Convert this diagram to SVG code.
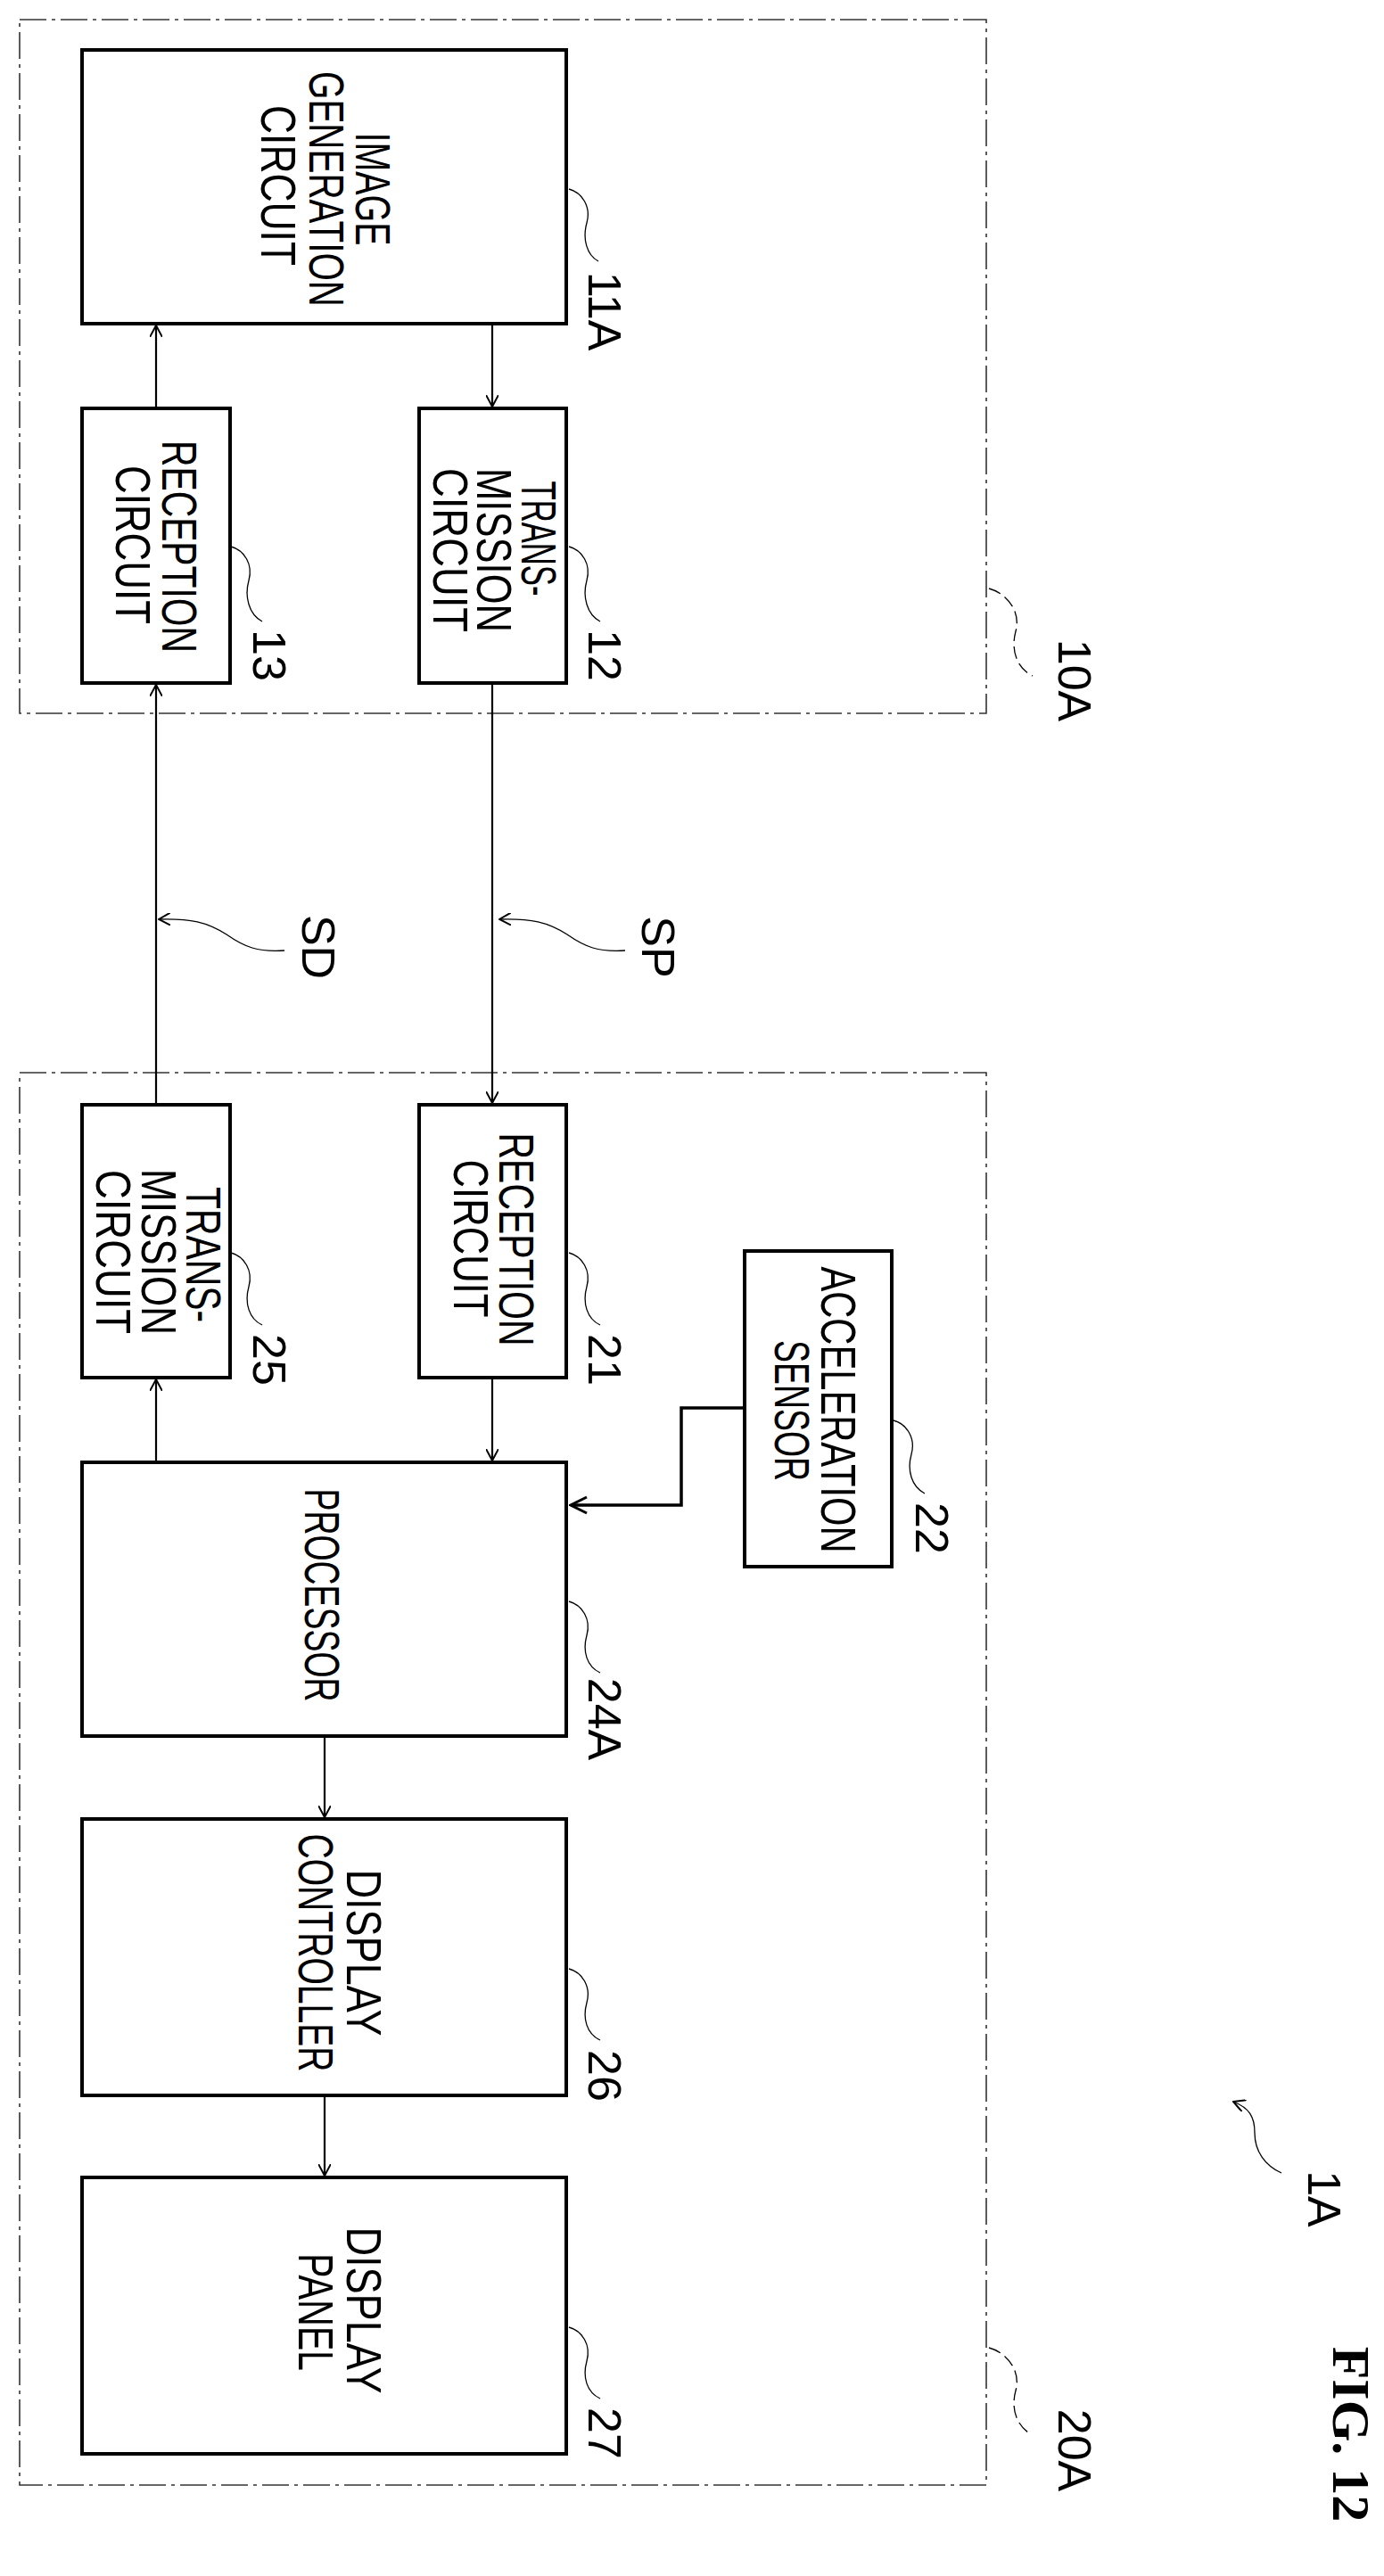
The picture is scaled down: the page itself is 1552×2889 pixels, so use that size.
<svg xmlns="http://www.w3.org/2000/svg" width="1552" height="2889" viewBox="0 0 1552 2889">
<style>
.box{fill:#fff;stroke:#000;stroke-width:4}
.grp{fill:none;stroke:#333;stroke-width:1.6;stroke-dasharray:30,6,4,6}
.ln{fill:none;stroke:#000;stroke-width:2.2}
.ld{fill:none;stroke:#000;stroke-width:1.3}
.ldd{fill:none;stroke:#000;stroke-width:1.3;stroke-dasharray:14,6}
text{font-family:"Liberation Sans","DejaVu Sans",sans-serif;font-size:56px;fill:#000}
.lb{font-size:52px}
.fig{font-family:"Liberation Serif","DejaVu Serif",serif;font-weight:bold;font-size:60px}
</style>
<defs>
<marker id="ah" markerWidth="14" markerHeight="14" refX="13" refY="7" orient="auto" markerUnits="userSpaceOnUse"><path d="M0,0 L13,7 L0,14" fill="none" stroke="#000" stroke-width="2"/></marker>
<marker id="ah2" markerWidth="22" markerHeight="22" refX="20" refY="11" orient="auto" markerUnits="userSpaceOnUse"><path d="M2,2 L20,11 L2,20" fill="none" stroke="#000" stroke-width="3"/></marker>
</defs>
<g id="group10A"><rect class="grp" x="22" y="22" width="1084" height="778"/></g>
<g id="group20A"><rect class="grp" x="22" y="1203" width="1084" height="1584"/></g>
<g id="n11A"><rect class="box" x="92" y="56" width="543" height="307"/>
<text transform="translate(418,212) rotate(90)" text-anchor="middle" dominant-baseline="central" textLength="127" lengthAdjust="spacingAndGlyphs">IMAGE</text>
<text transform="translate(366,212) rotate(90)" text-anchor="middle" dominant-baseline="central" textLength="264" lengthAdjust="spacingAndGlyphs">GENERATION</text>
<text transform="translate(312,208) rotate(90)" text-anchor="middle" dominant-baseline="central" textLength="180" lengthAdjust="spacingAndGlyphs">CIRCUIT</text></g>
<g id="n13"><rect class="box" x="92" y="458" width="166" height="308"/>
<text transform="translate(201,613) rotate(90)" text-anchor="middle" dominant-baseline="central" textLength="238" lengthAdjust="spacingAndGlyphs">RECEPTION</text>
<text transform="translate(149,611) rotate(90)" text-anchor="middle" dominant-baseline="central" textLength="178" lengthAdjust="spacingAndGlyphs">CIRCUIT</text></g>
<g id="n12"><rect class="box" x="470" y="458" width="165" height="308"/>
<text transform="translate(604,604) rotate(90)" text-anchor="middle" dominant-baseline="central" textLength="129" lengthAdjust="spacingAndGlyphs">TRANS-</text>
<text transform="translate(554,617) rotate(90)" text-anchor="middle" dominant-baseline="central" textLength="184" lengthAdjust="spacingAndGlyphs">MISSION</text>
<text transform="translate(505,617) rotate(90)" text-anchor="middle" dominant-baseline="central" textLength="184" lengthAdjust="spacingAndGlyphs">CIRCUIT</text></g>
<g id="n25"><rect class="box" x="92" y="1239" width="166" height="306"/>
<text transform="translate(228,1407) rotate(90)" text-anchor="middle" dominant-baseline="central" textLength="152" lengthAdjust="spacingAndGlyphs">TRANS-</text>
<text transform="translate(178,1404) rotate(90)" text-anchor="middle" dominant-baseline="central" textLength="186" lengthAdjust="spacingAndGlyphs">MISSION</text>
<text transform="translate(127,1404) rotate(90)" text-anchor="middle" dominant-baseline="central" textLength="184" lengthAdjust="spacingAndGlyphs">CIRCUIT</text></g>
<g id="n21"><rect class="box" x="470" y="1239" width="165" height="306"/>
<text transform="translate(579,1390) rotate(90)" text-anchor="middle" dominant-baseline="central" textLength="239" lengthAdjust="spacingAndGlyphs">RECEPTION</text>
<text transform="translate(528,1389) rotate(90)" text-anchor="middle" dominant-baseline="central" textLength="177" lengthAdjust="spacingAndGlyphs">CIRCUIT</text></g>
<g id="n22"><rect class="box" x="835" y="1403" width="165" height="354"/>
<text transform="translate(940,1581) rotate(90)" text-anchor="middle" dominant-baseline="central" textLength="321" lengthAdjust="spacingAndGlyphs">ACCELERATION</text>
<text transform="translate(888,1582) rotate(90)" text-anchor="middle" dominant-baseline="central" textLength="158" lengthAdjust="spacingAndGlyphs">SENSOR</text></g>
<g id="n24A"><rect class="box" x="92" y="1640" width="543" height="307"/>
<text transform="translate(361,1789) rotate(90)" text-anchor="middle" dominant-baseline="central" textLength="239" lengthAdjust="spacingAndGlyphs">PROCESSOR</text></g>
<g id="n26"><rect class="box" x="92" y="2040" width="543" height="310"/>
<text transform="translate(408,2190) rotate(90)" text-anchor="middle" dominant-baseline="central" textLength="187" lengthAdjust="spacingAndGlyphs">DISPLAY</text>
<text transform="translate(354,2190) rotate(90)" text-anchor="middle" dominant-baseline="central" textLength="267" lengthAdjust="spacingAndGlyphs">CONTROLLER</text></g>
<g id="n27"><rect class="box" x="92" y="2442" width="543" height="310"/>
<text transform="translate(408,2591) rotate(90)" text-anchor="middle" dominant-baseline="central" textLength="187" lengthAdjust="spacingAndGlyphs">DISPLAY</text>
<text transform="translate(354,2593) rotate(90)" text-anchor="middle" dominant-baseline="central" textLength="132" lengthAdjust="spacingAndGlyphs">PANEL</text></g>
<g id="connectors">
<line class="ln" x1="175" y1="458" x2="175" y2="365" marker-end="url(#ah)"/>
<line class="ln" x1="552" y1="363" x2="552" y2="456" marker-end="url(#ah)"/>
<line class="ln" x1="175" y1="1239" x2="175" y2="768" marker-end="url(#ah)"/>
<line class="ln" x1="552" y1="766" x2="552" y2="1237" marker-end="url(#ah)"/>
<line class="ln" x1="552" y1="1545" x2="552" y2="1638" marker-end="url(#ah)"/>
<line class="ln" x1="175" y1="1640" x2="175" y2="1547" marker-end="url(#ah)"/>
<polyline points="835,1579 764,1579 764,1688 640,1688" fill="none" stroke="#000" stroke-width="3.5" marker-end="url(#ah2)"/>
<line class="ln" x1="364" y1="1947" x2="364" y2="2038" marker-end="url(#ah)"/>
<line class="ln" x1="364" y1="2350" x2="364" y2="2440" marker-end="url(#ah)"/>
</g>
<g id="leaders">
<path class="ld" d="M638,212 c15,4 25,20 20,38 c-5,18 0,36 13,43"/>
<path class="ld" d="M259,613 c15,4 25,20 20,38 c-5,18 0,38 15,46"/>
<path class="ld" d="M638,613 c15,4 25,20 20,38 c-5,18 0,38 15,46"/>
<path class="ld" d="M259,1405 c15,4 25,20 20,38 c-5,18 0,36 15,43"/>
<path class="ld" d="M638,1405 c15,4 25,20 20,38 c-5,18 0,36 15,43"/>
<path class="ld" d="M1002,1593 c15,4 25,20 20,38 c-5,18 0,36 15,44"/>
<path class="ld" d="M638,1796 c15,4 25,20 20,38 c-5,18 0,35 15,42"/>
<path class="ld" d="M638,2208 c15,4 25,20 20,38 c-5,18 0,35 15,42"/>
<path class="ld" d="M638,2610 c15,4 25,20 20,38 c-5,18 0,35 15,42"/>
<path class="ldd" d="M1109,660 c22,6 36,28 30,48 c-6,22 2,42 19,50"/>
<path class="ldd" d="M1109,2633 c22,6 36,28 30,48 c-6,22 2,40 17,49"/>
<path class="ld" d="M319,1066 c-30,2 -45,-4 -65,-18 c-22,-14 -40,-18 -76,-17" marker-end="url(#ah)"/>
<path class="ld" d="M701,1066 c-30,2 -45,-4 -65,-18 c-22,-14 -40,-18 -76,-17" marker-end="url(#ah)"/>
<path class="ld" d="M1437,2437 c-18,-8 -30,-24 -30,-45 c0,-18 -6,-28 -24,-35" marker-end="url(#ah)"/>
</g>
<g id="labels">
<text class="lb" transform="translate(678,349) rotate(90)" text-anchor="middle" dominant-baseline="central">11A</text>
<text class="lb" transform="translate(302,735) rotate(90)" text-anchor="middle" dominant-baseline="central">13</text>
<text class="lb" transform="translate(678,735) rotate(90)" text-anchor="middle" dominant-baseline="central">12</text>
<text class="lb" transform="translate(1205,763) rotate(90)" text-anchor="middle" dominant-baseline="central">10A</text>
<text class="lb" transform="translate(357,1062) rotate(90)" text-anchor="middle" dominant-baseline="central">SD</text>
<text class="lb" transform="translate(738,1062) rotate(90)" text-anchor="middle" dominant-baseline="central">SP</text>
<text class="lb" transform="translate(302,1525) rotate(90)" text-anchor="middle" dominant-baseline="central">25</text>
<text class="lb" transform="translate(678,1525) rotate(90)" text-anchor="middle" dominant-baseline="central">21</text>
<text class="lb" transform="translate(1045,1714) rotate(90)" text-anchor="middle" dominant-baseline="central">22</text>
<text class="lb" transform="translate(678,1928) rotate(90)" text-anchor="middle" dominant-baseline="central">24A</text>
<text class="lb" transform="translate(678,2328) rotate(90)" text-anchor="middle" dominant-baseline="central">26</text>
<text class="lb" transform="translate(678,2729) rotate(90)" text-anchor="middle" dominant-baseline="central">27</text>
<text class="lb" transform="translate(1205,2748) rotate(90)" text-anchor="middle" dominant-baseline="central">20A</text>
<text class="lb" transform="translate(1485,2466) rotate(90)" text-anchor="middle" dominant-baseline="central">1A</text>
<text class="fig" transform="translate(1515,2730) rotate(90)" text-anchor="middle" dominant-baseline="central">FIG. 12</text>
</g>
</svg>
